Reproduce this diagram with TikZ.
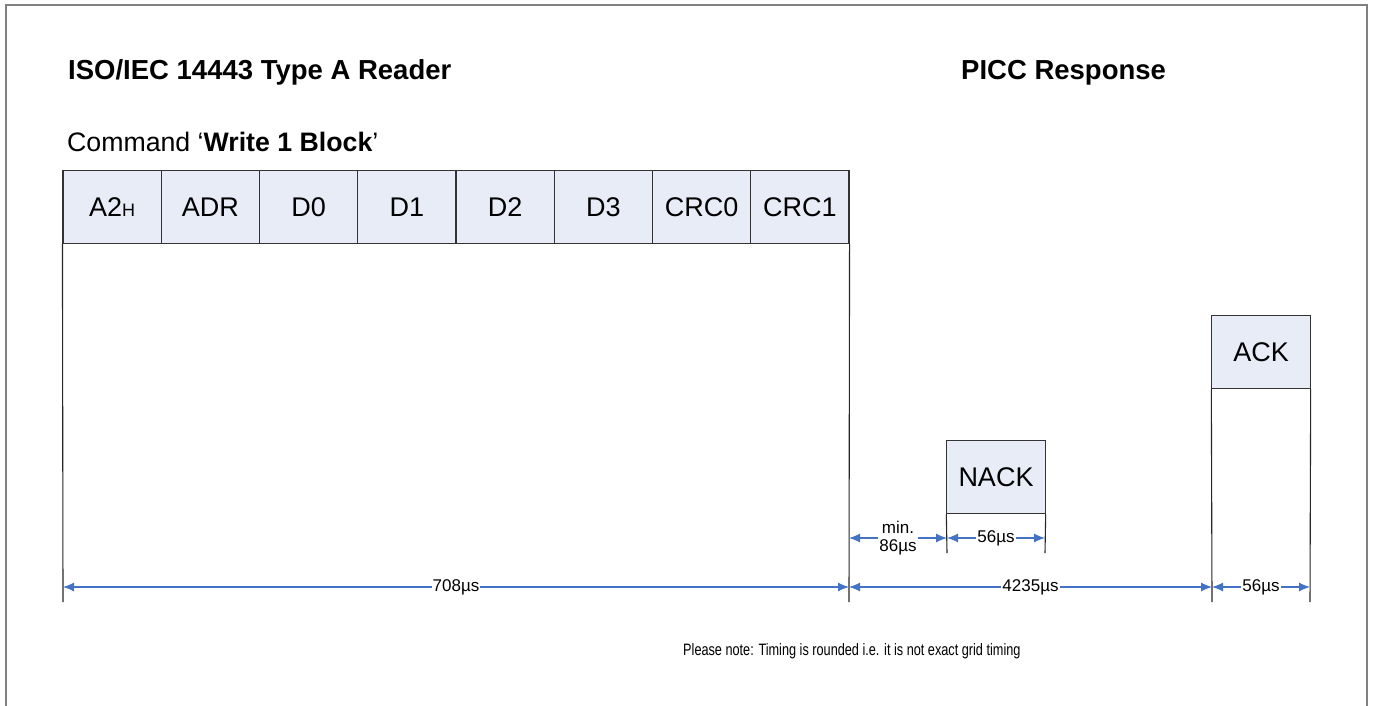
\documentclass[tikz,border=0pt]{standalone}
\usepackage{fontspec}
\setmainfont{Liberation Sans}
\usetikzlibrary{arrows.meta}
\definecolor{cellblue}{RGB}{231,236,246}
\definecolor{dimblue}{RGB}{68,114,196}
\definecolor{framegray}{RGB}{128,128,128}
\begin{document}
\begin{tikzpicture}[x=1pt,y=-1pt,
  cell/.style={draw=black!80, fill=cellblue, minimum width=98.25pt, minimum height=73pt, line width=1.1pt, font=\fontsize{27}{27}\selectfont, inner sep=0pt},
  vline/.style={draw=black!85, line width=1.1pt},
  dim/.style={draw=dimblue, line width=1.1pt, {Latex[length=11pt,width=9pt]}-{Latex[length=11pt,width=9pt]}},
  lbl/.style={fill=white, inner sep=1pt, font=\fontsize{17}{18}\selectfont, text=black},
  title/.style={font=\fontsize{27.5}{27.5}\selectfont\bfseries, anchor=base west, inner sep=0pt},
]
\useasboundingbox (0,0) rectangle (1373,706);
\draw[framegray, line width=1.5pt] (6,710) -- (6,5) -- (1367,5) -- (1367,710);

\node[title] (t1) at (68,80) {ISO/IEC 14443 Type A Reader};
\node[title] (t2) at (961,80) {PICC Response};
\node[anchor=base west, inner sep=0pt, font=\fontsize{26.7}{26.7}\selectfont] (cmd) at (67,152) {Command ‘\textbf{Write 1 Block}’};

\foreach \i/\t in {0/{A2{\fontsize{18}{18}\selectfont H}},1/ADR,2/D0,3/D1,4/D2,5/D3,6/CRC0,7/CRC1} {
  \node[cell] (c\i) at ({63+98.25*(\i+0.5)},207) {\t};
}

\node[cell] (nack) at (996,477) {NACK};
\node[cell] (ack) at (1261,352) {ACK};

\coordinate (L0) at (63,602);
\coordinate (R0) at (849,602);
\coordinate (N0) at (947,553);
\coordinate (N1) at (1045,553);
\coordinate (A0) at (1212,602);
\coordinate (A1) at (1310,602);

\draw[vline] (c0.south west) -- (L0);
\draw[vline] (c7.south east) -- (R0);
\draw[vline] (nack.south west) -- (N0);
\draw[vline] (nack.south east) -- (N1);
\draw[vline] (ack.south west) -- (A0);
\draw[vline] (ack.south east) -- (A1);

\coordinate (d0) at (63,587);
\coordinate (d1) at (849,587);
\coordinate (d2) at (1212,587);
\coordinate (d3) at (1310,587);
\coordinate (m0) at (849,538);
\coordinate (m1) at (947,538);
\coordinate (m2) at (1045,538);

\draw[dim] (d0) -- node[lbl] (l708) {708µs} (d1);
\draw[dim] (d1) -- node[lbl] (l4235) {4235µs} (d2);
\draw[dim] (d2) -- node[lbl] (l56a) {56µs} (d3);
\draw[dim] (m0) -- node[lbl, align=center] (l86) {min.\\86µs} (m1);
\draw[dim] (m1) -- node[lbl] (l56b) {56µs} (m2);

\node[anchor=base west, inner sep=0pt, font=\fontsize{16.5}{16.5}\selectfont] (note) at (683,655) {\scalebox{0.77}[1]{Please note: Timing is rounded i.e. it is not exact grid timing}};
\end{tikzpicture}
\end{document}
